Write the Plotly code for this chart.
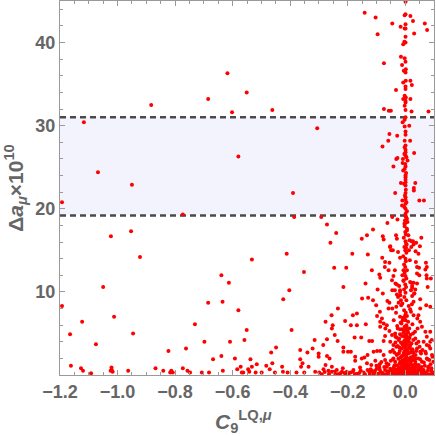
import plotly.graph_objects as go

# ---------------- data ----------------
band_low = 19.2
band_high = 31.0

x_ticks = [-1.2, -1.0, -0.8, -0.6, -0.4, -0.2, 0.0]
x_tick_text = ["\u22121.2", "\u22121.0", "\u22120.8", "\u22120.6", "\u22120.4", "\u22120.2", "0.0"]
y_ticks = [10, 20, 30, 40]

# scattered points far from C9 = 0
sparse_pts = [
    (-1.117, 30.4), (-1.193, 20.8), (-1.068, 24.4), (-0.950, 22.9), (-1.023, 16.7), (-0.953, 17.3),
    (-0.922, 14.2), (-1.050, 10.6), (-1.193, 8.3), (-1.123, 6.4), (-1.165, 4.9), (-1.012, 7.0),
    (-0.946, 5.0), (-1.075, 3.7), (-1.162, 1.1), (-1.127, 0.8), (-1.120, 0.5), (-1.021, 0.9),
    (-1.020, 0.6), (-1.024, 0.5), (-1.017, 0.4), (-0.963, 0.5), (-1.092, 0.2),
    (-0.883, 32.5), (-0.618, 36.3), (-0.685, 33.2), (-0.551, 34.0), (-0.602, 31.6), (-0.462, 31.9),
    (-0.580, 26.3), (-0.390, 21.9), (-0.773, 19.3), (-0.386, 19.0), (-0.306, 29.7),
    (-0.731, 6.1), (-0.698, 4.0), (-0.685, 8.7), (-0.668, 1.9), (-0.639, 12.0), (-0.635, 8.8),
    (-0.639, 2.3), (-0.634, 0.5), (-0.613, 11.1), (-0.609, 4.0), (-0.592, 2.0), (-0.580, 7.8),
    (-0.533, 13.9), (-0.551, 5.4), (-0.559, 4.2), (-0.538, 1.9), (-0.572, 1.0), (-0.584, 0.7),
    (-0.546, 0.7), (-0.533, 1.0), (-0.542, 0.4), (-0.568, 0.3), (-0.563, 0.3), (-0.516, 1.3),
    (-0.483, 1.1), (-0.471, 0.7), (-0.462, 1.4), (-0.466, 2.7), (-0.449, 3.3), (-0.424, 9.1),
    (-0.412, 14.6), (-0.403, 10.2), (-0.395, 5.4), (-0.428, 1.0), (-0.425, 0.4), (-0.409, 0.3),
    (-0.453, 0.3), (-0.365, 3.0), (-0.365, 1.9), (-0.357, 1.4), (-0.362, 1.0), (-0.352, 12.4),
    (-0.340, 2.7), (-0.336, 1.0), (-0.322, 3.2), (-0.315, 4.2), (-0.301, 2.6), (-0.301, 2.2),
    (-0.285, 3.6), (-0.272, 4.3), (-0.277, 6.4), (-0.256, 7.2), (-0.255, 5.6), (-0.252, 6.0),
    (-0.245, 4.8), (-0.260, 15.9), (-0.247, 12.9), (-0.272, 2.3), (-0.263, 2.0), (-0.277, 1.2),
    (-0.284, 0.7), (-0.267, 0.5), (-0.255, 1.0), (-0.247, 0.4), (-0.378, 0.3), (-0.351, 0.3),
    (-0.313, 0.4), (-0.299, 0.3), (-0.520, 0.3), (-0.499, 0.3), (-0.682, 0.3), (-0.707, 0.3),
    (-0.823, 2.9), (-0.762, 3.2), (-0.868, 0.8), (-0.841, 0.5), (-0.813, 0.5), (-0.808, 0.3),
    (-0.817, 0.3), (-0.773, 0.8), (-0.757, 0.5), (-0.748, 0.3),
]

# points near the top right
upper_pts = [
    (-0.141, 43.6), (-0.103, 43.0), (-0.096, 41.0), (-0.074, 37.5), (-0.032, 34.3), (-0.074, 32.0),
    (-0.057, 31.8), (-0.050, 31.8), (-0.055, 29.0), (-0.028, 28.8), (-0.059, 28.2), (-0.079, 27.5),
    (0.068, 42.3), (0.076, 41.5), (0.081, 31.7), (0.027, 42.6), (0.018, 43.2), (0.031, 41.1),
    (-0.045, 42.3), (-0.016, 41.9), (0.018, 33.2), (0.018, 35.4), (0.023, 34.9), (0.022, 31.7),
    (0.014, 30.0), (0.017, 28.2), (-0.015, 38.3),
]

# vertical stripe at C9 ~ 0
stripe_pts = [
    (0.001, 44.9), (0.001, 43.4), (-0.002, 43.3), (0.001, 42.2), (-0.002, 41.7), (0.001, 41.7),
    (0.001, 40.7), (-0.003, 40.1), (0.001, 40.0), (-0.007, 39.8), (-0.002, 38.1), (0.001, 37.7),
    (-0.011, 37.3), (0.002, 36.8), (-0.005, 36.6), (0.001, 36.4), (0.002, 35.4), (-0.007, 35.2),
    (0.001, 34.7), (0.001, 34.4), (-0.002, 33.6), (0.002, 33.4), (-0.007, 33.2), (0.001, 33.0),
    (0.001, 32.8), (-0.002, 32.4), (0.001, 31.9), (0.001, 31.0), (-0.002, 30.7), (-0.009, 30.4),
    (-0.002, 29.9), (0.001, 29.3), (0.001, 28.9), (-0.002, 28.2), (0.001, 27.6), (-0.002, 27.4),
    (0.001, 27.1), (0.001, 26.8), (0.001, 26.4), (-0.008, 26.0), (-0.027, 26.1), (-0.031, 26.0),
    (0.031, 26.7), (0.008, 25.8), (-0.009, 25.5), (0.001, 25.1), (-0.041, 25.1), (-0.007, 24.6),
    (0.001, 24.0), (0.001, 23.8), (0.001, 23.2), (-0.015, 23.1), (0.035, 23.1), (0.001, 22.8),
    (0.030, 22.5), (0.030, 22.2), (-0.035, 21.9), (0.001, 21.9), (0.001, 21.4), (0.001, 21.1),
    (0.049, 21.0), (0.065, 21.0), (-0.010, 21.0), (0.001, 20.6), (-0.011, 20.4), (0.001, 20.0),
    (0.006, 19.7), (0.001, 19.4), (0.001, 19.1), (-0.003, 20.2), (0.004, 20.8), (-0.001, 21.6),
    (0.002, 22.3), (-0.004, 23.0), (0.001, 23.5), (0.003, 24.3), (-0.002, 24.8), (0.000, 25.4),
    (0.004, 26.2), (-0.003, 26.6),
    (0.003, 19.0), (-0.001, 18.6), (0.001, 18.3), (-0.002, 17.9), (0.006, 17.6), (0.000, 17.2),
    (0.002, 16.9), (-0.005, 16.5), (0.001, 16.1), (0.005, 15.7), (-0.003, 15.4), (0.000, 15.0),
    (0.004, 14.7), (-0.007, 14.3), (0.001, 14.0), (0.002, 13.7), (-0.004, 13.3), (0.000, 13.0),
    (0.006, 12.6), (-0.002, 12.3), (0.001, 11.9), (0.004, 11.6), (-0.006, 11.3), (0.000, 10.9),
    (0.003, 10.6), (-0.004, 10.3), (0.001, 9.9), (0.004, 9.0), (-0.003, 9.4), (0.012, 8.3),
    (-0.010, 8.6),
]

# points close to the stripe, below the band
near_pts = [
    (-0.292, 19.0), (-0.272, 18.1), (-0.240, 17.1), (-0.112, 17.5), (-0.133, 16.8), (-0.151, 16.4),
    (-0.184, 14.6), (-0.130, 14.5), (-0.205, 12.9), (-0.215, 10.6), (-0.116, 12.6), (-0.138, 11.0),
    (-0.090, 12.1), (-0.087, 11.7), (-0.096, 10.3), (-0.080, 14.1), (-0.070, 13.6), (-0.055, 13.5),
    (-0.071, 13.0), (-0.078, 16.7), (-0.075, 16.3), (-0.053, 15.4), (-0.043, 15.0), (-0.062, 18.3),
    (-0.045, 19.0), (-0.027, 18.7), (-0.032, 16.8), (-0.029, 16.4), (-0.058, 12.6), (-0.046, 11.4),
    (-0.041, 11.9), (-0.036, 12.6), (-0.034, 11.0), (-0.021, 10.7), (-0.018, 10.2), (-0.029, 9.7),
    (-0.017, 9.6), (0.016, 13.8), (0.037, 13.6), (0.041, 13.0), (0.049, 12.0), (0.075, 11.6),
    (0.072, 13.5), (0.070, 12.7), (0.078, 10.6), (0.056, 16.5), (0.027, 16.1), (0.029, 15.7),
    (0.036, 14.9), (0.046, 14.6), (0.011, 16.8), (0.015, 16.2), (0.013, 15.0), (0.003, 15.8),
    (0.006, 17.4), (0.008, 18.4), (-0.003, 18.2), (0.006, 18.8), (0.017, 11.2), (0.020, 10.2),
    (0.031, 9.8), (0.024, 10.7), (-0.018, 14.1), (-0.025, 14.8), (-0.006, 12.6), (-0.010, 12.0),
    (-0.006, 11.4), (-0.049, 15.0), (-0.052, 15.5), (0.051, 15.5), (0.038, 15.9), (0.022, 16.1),
    (0.021, 15.4), (0.003, 15.3), (-0.078, 9.8), (-0.150, 9.2), (-0.129, 9.3), (-0.112, 9.0),
    (-0.101, 8.4), (-0.062, 8.9), (-0.055, 8.7), (-0.029, 10.9), (-0.036, 10.2), (-0.018, 10.0),
    (-0.025, 9.4), (-0.015, 9.0), (-0.023, 8.7), (-0.014, 8.4), (-0.031, 8.2), (-0.045, 10.2),
    (-0.045, 8.0), (-0.058, 8.0), (-0.088, 7.6), (-0.234, 8.0), (0.075, 13.0), (0.048, 12.9),
    (0.041, 12.2), (0.074, 12.0), (0.089, 11.6), (0.021, 11.1), (0.029, 11.1), (0.041, 11.0),
    (0.024, 10.5), (0.035, 10.3), (0.032, 9.8), (0.024, 9.5), (0.052, 9.1), (0.029, 8.8),
    (0.023, 8.5), (0.073, 8.4), (0.087, 8.2), (0.052, 8.0), (0.017, 7.9),
]

# dense region at small Delta a_mu
low_pts = [
    (-0.182, 7.2), (-0.168, 7.4), (-0.209, 6.5), (-0.189, 6.0), (-0.168, 6.0), (-0.137, 6.1),
    (-0.235, 4.1), (-0.176, 4.5), (-0.153, 4.5), (-0.125, 4.1), (-0.115, 4.1), (-0.098, 7.1),
    (-0.087, 6.4), (-0.081, 6.8), (-0.075, 6.2), (-0.069, 5.6), (-0.064, 6.0), (-0.055, 5.3),
    (-0.070, 4.7), (-0.075, 4.1), (-0.087, 5.8), (-0.046, 4.8), (-0.052, 4.0), (-0.041, 3.6),
    (-0.043, 3.0), (-0.031, 3.4), (-0.023, 4.2), (-0.034, 4.6), (-0.215, 3.3), (-0.215, 2.8),
    (-0.199, 2.8), (-0.189, 2.8), (-0.174, 2.2), (-0.174, 1.7), (-0.151, 2.0), (-0.142, 2.1),
    (-0.131, 2.4), (-0.110, 2.8), (-0.098, 2.9), (-0.087, 2.9), (-0.104, 1.7), (-0.089, 1.3),
    (-0.118, 1.2), (-0.133, 1.4), (-0.157, 0.9), (-0.180, 0.6), (-0.203, 0.4), (-0.217, 0.8),
    (-0.238, 0.6), (-0.255, 0.4), (-0.226, 0.2), (-0.075, 2.4), (-0.070, 1.8), (-0.064, 1.0),
    (-0.058, 0.4), (-0.052, 2.8), (-0.041, 2.0), (-0.035, 1.2), (-0.029, 2.4), (-0.023, 0.8),
    (-0.017, 1.6), (0.029, 7.2), (0.046, 7.2), (0.052, 6.4), (0.043, 5.6), (0.058, 5.8),
    (0.070, 5.2), (0.075, 4.6), (0.087, 5.2), (0.087, 4.0), (0.075, 3.6), (0.064, 4.0),
    (0.046, 4.0), (0.035, 4.4), (0.027, 5.0), (0.041, 3.2), (0.052, 2.8), (0.070, 2.8),
    (0.087, 3.2), (0.093, 2.4), (0.075, 2.0), (0.058, 1.6), (0.035, 2.0), (0.029, 1.2),
    (0.046, 0.8), (0.064, 0.6), (0.081, 1.0), (0.093, 0.4), (0.098, 1.6), (0.023, 2.8),
    (0.017, 3.6),
    (-0.004, 7.8), (0.002, 7.5), (0.006, 7.1), (-0.008, 6.9), (0.001, 6.6), (0.010, 6.4),
    (-0.013, 6.2), (0.004, 6.0), (-0.002, 5.8), (0.014, 5.6), (-0.018, 5.5), (0.007, 5.3),
    (-0.006, 5.1), (0.001, 4.9), (0.018, 4.8), (-0.011, 4.7), (0.009, 4.5), (-0.021, 4.4),
    (0.003, 4.3), (-0.004, 4.1), (0.013, 4.0), (-0.015, 3.9), (0.022, 3.8), (0.006, 3.7),
    (-0.008, 3.6), (-0.026, 3.5), (0.016, 3.4), (0.001, 3.3), (-0.012, 3.2), (0.025, 3.1),
    (0.008, 3.0), (-0.019, 2.9), (-0.003, 2.8), (0.019, 2.7), (0.011, 2.6), (-0.030, 2.5),
    (-0.007, 2.4), (0.028, 2.3), (0.004, 2.2), (-0.016, 2.1), (0.014, 2.0), (-0.024, 1.95),
    (-0.001, 1.9), (0.032, 1.85), (0.009, 1.8), (-0.011, 1.7), (0.021, 1.65), (-0.035, 1.6),
    (-0.005, 1.55), (0.003, 1.5), (0.017, 1.4), (-0.020, 1.35), (0.037, 1.3), (-0.009, 1.25),
    (0.007, 1.2), (-0.028, 1.15), (0.026, 1.1), (-0.002, 1.05), (0.012, 1.0), (-0.015, 0.95),
    (0.044, 0.9), (-0.040, 0.9), (0.001, 0.85), (0.019, 0.8), (-0.023, 0.78), (-0.006, 0.75),
    (0.031, 0.7), (0.009, 0.68), (-0.033, 0.65), (0.050, 0.62), (-0.012, 0.6), (0.003, 0.57),
    (0.024, 0.55), (-0.048, 0.52), (-0.018, 0.5), (0.040, 0.48), (0.014, 0.45), (-0.004, 0.43),
    (-0.027, 0.4), (0.058, 0.38), (0.030, 0.36), (0.007, 0.34), (-0.039, 0.32), (-0.010, 0.3),
    (0.020, 0.28), (-0.056, 0.26), (0.047, 0.24), (0.001, 0.22), (-0.021, 0.2), (0.066, 0.19),
    (0.036, 0.17), (-0.031, 0.16), (0.011, 0.14), (-0.045, 0.13), (0.076, 0.12), (-0.007, 0.11),
    (0.026, 0.1), (-0.065, 0.09), (0.055, 0.08), (-0.015, 0.07), (0.085, 0.06), (0.004, 0.05),
    (-0.080, 0.05), (0.042, 0.04), (-0.036, 0.04), (0.095, 0.03), (-0.095, 0.03), (0.017, 0.02),
    (-0.110, 0.15), (-0.125, 0.35), (-0.140, 0.1), (-0.160, 0.25), (-0.175, 0.08), (-0.190, 0.3),
    (-0.205, 0.12), (-0.220, 0.4), (-0.235, 0.1), (-0.245, 0.25), (-0.265, 0.12), (-0.280, 0.35),
    (-0.290, 0.1), (-0.105, 0.5), (-0.120, 0.7), (-0.085, 0.35), (-0.070, 0.6), (-0.060, 0.2),
    (-0.090, 0.9), (-0.100, 1.1), (-0.065, 1.4), (-0.050, 1.7), (-0.045, 0.55), (-0.038, 1.1),
    (0.060, 0.6), (0.070, 0.3), (0.080, 0.9), (0.090, 0.5), (0.065, 1.5), (0.078, 1.9),
    (0.088, 1.3), (0.095, 2.2), (0.055, 2.6), (0.045, 2.0), (0.035, 1.6), (0.038, 2.9),
    (0.050, 3.4), (0.060, 3.0), (0.072, 2.6), (0.083, 3.5), (0.092, 4.2), (0.028, 4.2),
    (0.034, 5.2), (0.025, 6.1), (0.042, 6.8), (-0.035, 5.0), (-0.028, 5.9), (-0.040, 6.6),
    (-0.032, 7.5), (-0.018, 7.0), (0.020, 7.6),
]

# extra points in the solid core near the origin
core_pts = [
    (-0.045, 0.3), (-0.042, 1.9), (-0.038, 2.7), (-0.034, 3.9), (-0.030, 4.5), (-0.026, 5.6),
    (-0.024, 0.1), (-0.022, 2.6), (-0.020, 3.3), (-0.018, 4.9), (-0.016, 6.3), (-0.014, 0.35),
    (-0.013, 1.45), (-0.012, 2.25), (-0.011, 3.75), (-0.010, 5.5), (-0.009, 6.6), (-0.008, 0.05),
    (-0.007, 1.0), (-0.006, 1.8), (-0.005, 2.65), (-0.004, 3.45), (-0.003, 4.6), (-0.002, 6.9),
    (-0.001, 0.65), (0.000, 1.35), (0.000, 2.05), (0.000, 3.05), (0.000, 3.9), (0.000, 5.4),
    (0.000, 7.2), (0.001, 0.3), (0.002, 1.15), (0.002, 2.45), (0.003, 3.55), (0.004, 4.75),
    (0.005, 5.7), (0.006, 0.9), (0.007, 1.65), (0.008, 2.85), (0.009, 4.15), (0.010, 5.1),
    (0.011, 0.55), (0.012, 1.9), (0.013, 3.25), (0.015, 4.45), (0.016, 0.2), (0.018, 1.25),
    (0.020, 2.15), (0.022, 3.0), (0.024, 0.75), (0.026, 1.8), (0.028, 2.7), (0.030, 0.4),
    (0.033, 1.0), (0.036, 2.4), (0.039, 3.8), (0.043, 0.15), (0.047, 1.2), (0.052, 1.9),
    (0.057, 0.95), (0.062, 0.35), (0.068, 1.1), (0.073, 0.1), (0.079, 0.55), (0.084, 1.8),
    (0.091, 0.8), (0.097, 0.2), (-0.052, 0.75), (-0.058, 1.25), (-0.062, 0.45), (-0.068, 0.05),
    (-0.073, 0.95), (-0.078, 0.25), (-0.083, 1.55), (-0.088, 0.6), (-0.094, 0.15), (-0.099, 0.75),
    (-0.107, 0.25), (-0.115, 0.45), (-0.123, 0.1), (-0.131, 0.6), (-0.145, 0.3), (-0.155, 0.55),
    (-0.168, 0.15), (-0.182, 0.4), (-0.197, 0.15), (-0.212, 0.25),
]

all_pts = sparse_pts + upper_pts + stripe_pts + near_pts + low_pts + core_pts
c9_vals = [p[0] for p in all_pts]
damu_vals = [p[1] for p in all_pts]

# ---------------- figure ----------------
GRAY_TXT = "#666666"
GRAY_AX = "#9a9a9a"
FONT = "Liberation Sans, Arial, sans-serif"

fig = go.Figure()
fig.add_trace(go.Scatter(
    x=c9_vals, y=damu_vals, mode="markers",
    marker=dict(color="#ff0000", size=4, line=dict(width=0)),
    showlegend=False, hoverinfo="skip",
))

fig.add_shape(type="rect", xref="x domain", yref="y", x0=0, x1=1,
              y0=band_low, y1=band_high, fillcolor="#f3f3fd", line_width=0, layer="below")
for yv in (band_low, band_high):
    fig.add_shape(type="line", xref="x domain", yref="y", x0=0, x1=1, y0=yv, y1=yv,
                  line=dict(color="#4a4a4a", width=2.5, dash="6px,4px"), layer="below")

tick_font = dict(family=FONT, size=18, color=GRAY_TXT, weight="bold")
axis_common = dict(
    showgrid=False, zeroline=False, showline=True, linecolor=GRAY_AX, linewidth=1,
    mirror="ticks", ticks="inside", ticklen=5, tickwidth=1, tickcolor=GRAY_AX,
    tickfont=tick_font, automargin=False,
)

fig.update_xaxes(
    range=[-1.2, 0.1], tickmode="array", tickvals=x_ticks, ticktext=x_tick_text,
    minor=dict(ticks="inside", dtick=0.05, tick0=0, ticklen=3, tickcolor=GRAY_AX),
    **axis_common,
)
fig.update_yaxes(
    range=[0, 45], tickmode="array", tickvals=y_ticks,
    minor=dict(ticks="inside", dtick=2, tick0=0, ticklen=3, tickcolor=GRAY_AX),
    title=dict(text="Δ<i>a</i><sub><i>μ</i></sub>×10<sup>10</sup>",
               font=dict(family=FONT, size=21, color=GRAY_TXT, weight="bold"),
               standoff=6),
    **axis_common,
)

# x-axis title placed just under the tick labels
fig.add_annotation(
    text="<i>C</i><sub>9</sub><sup>LQ,<i>μ</i></sup>",
    xref="paper", yref="paper", x=0.49, y=-0.124,
    xanchor="center", yanchor="middle", showarrow=False,
    font=dict(family=FONT, size=21, color=GRAY_TXT, weight="bold"),
)

fig.update_layout(
    width=436, height=436,
    margin=dict(l=60, r=2, t=1, b=61),
    paper_bgcolor="white", plot_bgcolor="white",
    font=dict(family=FONT),
)

fig.write_html("out.html", config={"displayModeBar": False},
               post_script="document.body.style.margin='0px';")
